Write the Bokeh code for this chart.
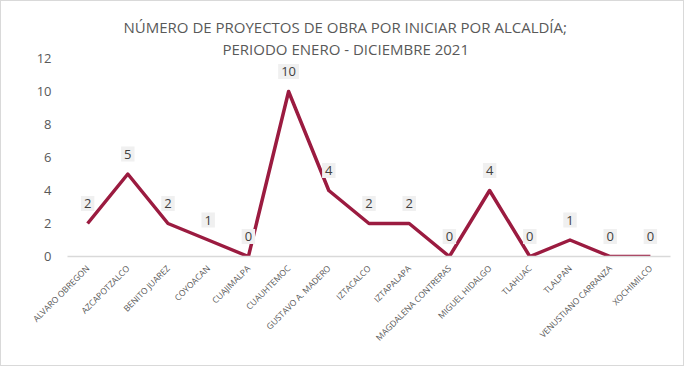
from bokeh.plotting import figure
from bokeh.models import ColumnDataSource, Title, FixedTicker, FactorRange, Range1d
from bokeh.core.properties import value
from bokeh.embed import file_html
from bokeh.resources import INLINE

categories = ["ALVARO OBREGON", "AZCAPOTZALCO", "BENITO JUAREZ", "COYOACAN", "CUAJIMALPA",
              "CUAUHTEMOC", "GUSTAVO A. MADERO", "IZTACALCO", "IZTAPALAPA", "MAGDALENA CONTRERAS",
              "MIGUEL HIDALGO", "TLAHUAC", "TLALPAN", "VENUSTIANO CARRANZA", "XOCHIMILCO"]
proyectos = [2, 5, 2, 1, 0, 10, 4, 2, 2, 0, 4, 0, 1, 0, 0]
y_ticks = [0, 2, 4, 6, 8, 10, 12]
title_1 = "NÚMERO DE PROYECTOS DE OBRA POR INICIAR POR ALCALDÍA;"
title_2 = "PERIODO ENERO - DICIEMBRE 2021"

FONT = "Open Sans"
GRAY = "#595959"
LINE = "#9B1B40"

src = ColumnDataSource(dict(cat=categories, val=proyectos, lab=[str(v) for v in proyectos]))

p = figure(width=684, height=366, x_range=FactorRange(*categories, range_padding=0),
           y_range=Range1d(0, 12), output_backend="svg", toolbar_location=None,
           min_border_left=66, min_border_right=15, min_border_top=57, min_border_bottom=111,
           styles={"border": "1px solid #d9d9d9"})

p.add_layout(Title(text=title_2, align="left", text_font=FONT, text_font_size="15px",
                   text_font_style="normal", text_color=GRAY, text_line_height=1.0,
                   standoff=0, offset=155), "above")
p.add_layout(Title(text=title_1, align="left", text_font=FONT, text_font_size="15px",
                   text_font_style="normal", text_color=GRAY, text_line_height=1.0,
                   standoff=0, offset=56), "above")

p.line("cat", "val", source=src, line_color=LINE, line_width=3.5, line_join="round")
p.text("cat", "val", text="lab", source=src, y_offset=-20, text_align="center",
       text_baseline="middle", text_font=value(FONT), text_font_size="13px",
       text_color="#404040", background_fill_color="#F0F0F0", padding=3)

p.outline_line_color = None
p.xgrid.grid_line_color = None
p.ygrid.grid_line_color = None

p.yaxis.ticker = FixedTicker(ticks=y_ticks)
p.yaxis.axis_line_color = None
p.yaxis.major_tick_line_color = None
p.yaxis.minor_tick_line_color = None
p.yaxis.major_label_text_font = FONT
p.yaxis.major_label_text_font_size = "13px"
p.yaxis.major_label_text_color = GRAY
p.yaxis.major_label_standoff = 10

p.xaxis.axis_line_color = "#d9d9d9"
p.xaxis.axis_line_width = 1.5
p.xaxis.major_tick_line_color = None
p.xaxis.minor_tick_line_color = None
p.xaxis.major_label_orientation = 0.785398
p.xaxis.major_label_text_font = FONT
p.xaxis.major_label_text_font_size = "8.5px"
p.xaxis.major_label_text_color = GRAY
p.xaxis.major_label_standoff = 4

open("out.html", "w").write(file_html(p, INLINE))
